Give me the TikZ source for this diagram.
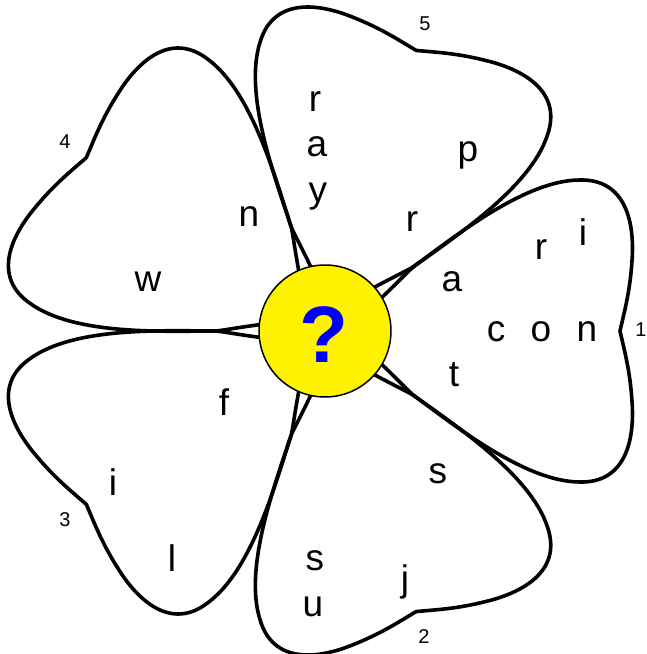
\documentclass[tikz,border=0pt]{standalone}
\usepackage{fontspec}
\setmainfont{Liberation Sans}
\begin{document}
\begin{tikzpicture}[x=1pt,y=1pt,
  petal/.style={draw=black, line width=3.6pt, line join=round},
  ltr/.style={font=\fontsize{37}{37}\selectfont, inner sep=0pt},
  num/.style={font=\fontsize{20}{20}\selectfont, inner sep=0pt}]
\useasboundingbox (-325,-323) rectangle (322,331);
\foreach \a in {0,72,144,216,288} {
  \draw[petal, rotate=\a] (0,-8) -- (0,8)
    .. controls (15,30) and (81,58.9) .. (89,64.7)
    .. controls (130,94.5) and (200,151) .. (255,151)
    .. controls (300,152) and (310,110) .. (307,70)
    .. controls (305,40) and (300,22) .. (295,0)
    .. controls (300,-22) and (305,-40) .. (307,-70)
    .. controls (310,-110) and (300,-152) .. (255,-151)
    .. controls (200,-151) and (130,-94.5) .. (89,-64.7)
    .. controls (81,-58.9) and (15,-30) .. (0,-8);
}
\node[draw=black, fill=yellow, circle, minimum size=132pt, line width=1.5pt, inner sep=0pt] (c) at (0,0) {};
\node[text=blue, inner sep=0pt, font=\bfseries\fontsize{80}{80}\selectfont] (q) at (-1,-4) {?};
% petal 5
\node[ltr] (p5a) at (-10,229) {r};
\node[ltr] (p5b) at (-8,184) {a};
\node[ltr] (p5c) at (-7,134) {y};
\node[ltr] (p5d) at (143,176) {p};
\node[ltr] (p5e) at (87,109) {r};
% petal 1
\node[ltr] (p1a) at (216,81) {r};
\node[ltr] (p1b) at (258,99) {i};
\node[ltr] (p1c) at (127,49) {a};
\node[ltr] (p1d) at (171,-1) {c};
\node[ltr] (p1e) at (216,-1) {o};
\node[ltr] (p1f) at (262,-1) {n};
\node[ltr] (p1g) at (129,-44) {t};
% petal 2
\node[ltr] (p2a) at (113,-143) {s};
\node[ltr] (p2b) at (-10,-230) {s};
\node[ltr] (p2c) at (-12,-276) {u};
\node[ltr] (p2d) at (80,-251) {j};
% petal 3
\node[ltr] (p3a) at (-101,-71) {f};
\node[ltr] (p3b) at (-212,-151) {i};
\node[ltr] (p3c) at (-153,-227) {l};
% petal 4
\node[ltr] (p4a) at (-76,114) {n};
\node[ltr] (p4b) at (-177,49) {w};
% numbers
\node[num] (n1) at (316,1) {1};
\node[num] (n2) at (99,-306) {2};
\node[num] (n3) at (-260,-189) {3};
\node[num] (n4) at (-260,189) {4};
\node[num] (n5) at (100,307) {5};
\end{tikzpicture}
\end{document}
